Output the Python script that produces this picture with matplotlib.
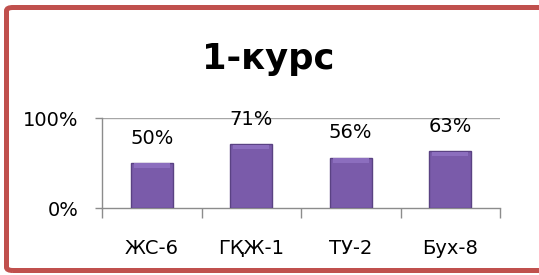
import numpy as np
import matplotlib.pyplot as plt
from matplotlib.patches import FancyBboxPatch

# данные с картинки
groups = ['ЖС-6', 'ГҚЖ-1', 'ТУ-2', 'Бух-8']
values = [0.50, 0.71, 0.56, 0.63]
value_labels = ['50%', '71%', '56%', '63%']
y_ticks = [0, 1]
y_tick_labels = ['0%', '100%']

plt.rcParams['font.family'] = ['DejaVu Sans']

fig = plt.figure(figsize=(5.39, 2.75), dpi=100)
fig.patch.set_facecolor('white')

# красная рамка
frame = FancyBboxPatch((6.5 / 539, 4.5 / 275), 545 / 539, 263 / 275,
                       boxstyle='round,pad=0,rounding_size=0.012',
                       transform=fig.transFigure, fill=False,
                       edgecolor='#C0504D', linewidth=3.6, clip_on=False)
fig.patches.append(frame)

fig.text(0.498, 0.785, '1-курс', ha='center', va='center',
         fontsize=25.5, fontweight='bold', color='black')

ax = fig.add_axes([102 / 539, 1 - 208 / 275, 398 / 539, 90 / 275])
x = np.arange(len(groups))
bars = ax.bar(x, values, width=0.42, color='#7A5BAA',
              edgecolor='#5A4283', linewidth=1.0, zorder=3)

# светлая полоса сверху (имитация фаски)
for xi, v in zip(x, values):
    ax.bar(xi, 0.05, bottom=v - 0.055, width=0.36, color='#8C6EBE',
           linewidth=0, zorder=4)

for xi, v, lab in zip(x, values, value_labels):
    ax.annotate(lab, (xi, v), xytext=(0, 11), textcoords='offset points',
                ha='center', va='bottom', fontsize=14)

ax.set_xlim(-0.5, len(groups) - 0.5)
ax.set_ylim(0, 1)
ax.set_yticks(y_ticks)
ax.set_yticklabels(y_tick_labels, fontsize=14)
ax.set_xticks(x)
ax.set_xticklabels(groups, fontsize=14)
ax.tick_params(axis='x', length=0, pad=22)
ax.set_xticks(np.arange(len(groups) + 1) - 0.5, minor=True)
ax.tick_params(axis='x', which='minor', length=7, color='#8C8C8C', width=1)
ax.tick_params(axis='y', length=5, color='#8C8C8C', width=1, pad=12)

ax.axhline(1, color='#A6A6A6', linewidth=1, zorder=1)
for s in ['top', 'right']:
    ax.spines[s].set_visible(False)
for s in ['left', 'bottom']:
    ax.spines[s].set_color('#8C8C8C')
    ax.spines[s].set_linewidth(1)
ax.set_facecolor('none')

fig.savefig('out.png', dpi=100)
